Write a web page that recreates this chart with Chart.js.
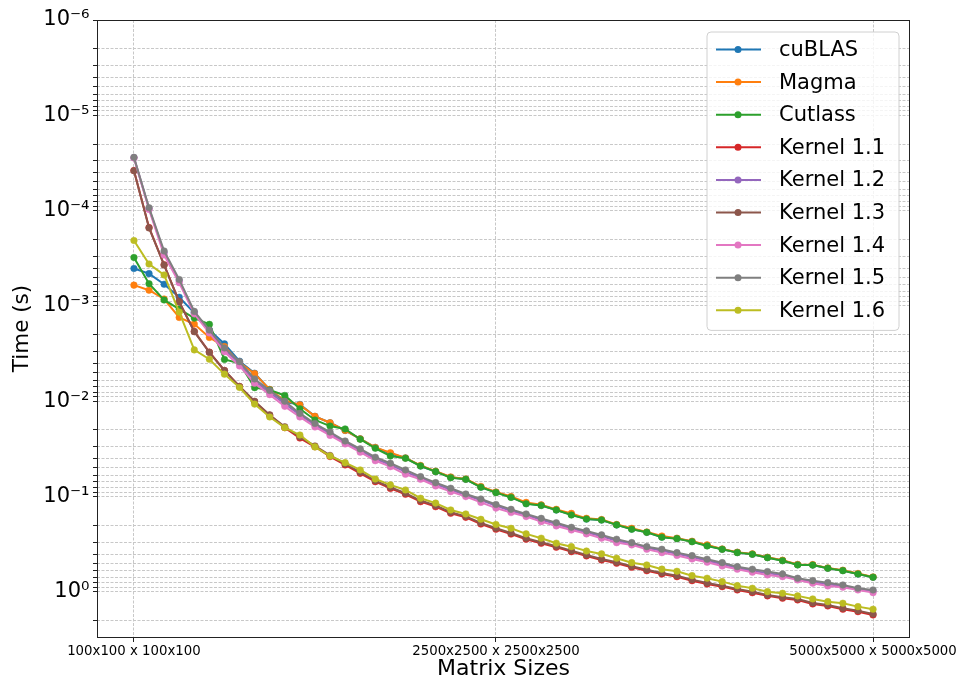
<!DOCTYPE html>
<html>
<head>
<meta charset="utf-8">
<title>Matrix multiplication timings</title>
<script src="https://cdn.jsdelivr.net/npm/chart.js@4.4.1/dist/chart.umd.min.js"></script>
<style>
  html, body { margin: 0; padding: 0; background: #fff; }
  #chart { display: block; }
</style>
</head>
<body>
<canvas id="chart" width="962" height="683"></canvas>
<script>
/* ── data ── */
// matrix size N (N x N times N x N)
const sizes = [100, 200, 300, 400, 500, 600, 700, 800, 900, 1000,
  1100, 1200, 1300, 1400, 1500, 1600, 1700, 1800, 1900, 2000,
  2100, 2200, 2300, 2400, 2500, 2600, 2700, 2800, 2900, 3000,
  3100, 3200, 3300, 3400, 3500, 3600, 3700, 3800, 3900, 4000,
  4100, 4200, 4300, 4400, 4500, 4600, 4700, 4800, 4900, 5000];
const sizeTicks = [100, 2500, 5000];
const sizeTickLabels = ['100x100 x 100x100', '2500x2500 x 2500x2500', '5000x5000 x 5000x5000'];
const timeExponents = [-6, -5, -4, -3, -2, -1, 0];

// time in seconds
const cublas = [4.04e-4, 4.58e-4, 5.92e-4, 8.10e-4, 1.18e-3, 1.79e-3, 2.50e-3, 3.80e-3, 5.08e-3, 7.55e-3,
  1.02e-2, 1.08e-2, 1.44e-2, 1.68e-2, 2.02e-2, 2.48e-2, 3.05e-2, 3.53e-2, 3.93e-2, 4.77e-2,
  5.45e-2, 6.27e-2, 6.58e-2, 7.94e-2, 9.00e-2, 1.01e-1, 1.18e-1, 1.23e-1, 1.38e-1, 1.54e-1,
  1.72e-1, 1.76e-1, 1.98e-1, 2.19e-1, 2.37e-1, 2.65e-1, 2.75e-1, 2.96e-1, 3.26e-1, 3.57e-1,
  3.85e-1, 4.02e-1, 4.35e-1, 4.68e-1, 5.17e-1, 5.21e-1, 5.64e-1, 5.96e-1, 6.48e-1, 7.01e-1];
const magma = [6.05e-4, 6.83e-4, 8.45e-4, 1.32e-3, 1.55e-3, 2.14e-3, 2.67e-3, 3.93e-3, 5.13e-3, 7.51e-3,
  9.80e-3, 1.09e-2, 1.44e-2, 1.68e-2, 2.02e-2, 2.48e-2, 3.05e-2, 3.46e-2, 3.93e-2, 4.71e-2,
  5.42e-2, 6.22e-2, 6.53e-2, 7.82e-2, 8.94e-2, 9.96e-2, 1.15e-1, 1.22e-1, 1.36e-1, 1.50e-1,
  1.69e-1, 1.74e-1, 1.96e-1, 2.15e-1, 2.35e-1, 2.59e-1, 2.73e-1, 2.94e-1, 3.21e-1, 3.54e-1,
  3.83e-1, 3.99e-1, 4.33e-1, 4.65e-1, 5.15e-1, 5.17e-1, 5.60e-1, 5.92e-1, 6.40e-1, 6.96e-1];
const cutlass = [3.10e-4, 5.84e-4, 8.65e-4, 1.08e-3, 1.34e-3, 1.56e-3, 3.64e-3, 3.99e-3, 7.19e-3, 7.61e-3,
  8.69e-3, 1.20e-2, 1.57e-2, 1.82e-2, 1.95e-2, 2.50e-2, 3.11e-2, 3.75e-2, 3.96e-2, 4.77e-2,
  5.47e-2, 6.33e-2, 6.58e-2, 7.98e-2, 9.09e-2, 1.02e-1, 1.19e-1, 1.24e-1, 1.38e-1, 1.56e-1,
  1.72e-1, 1.76e-1, 1.98e-1, 2.20e-1, 2.37e-1, 2.67e-1, 2.76e-1, 2.97e-1, 3.29e-1, 3.57e-1,
  3.87e-1, 4.02e-1, 4.37e-1, 4.70e-1, 5.21e-1, 5.23e-1, 5.64e-1, 5.98e-1, 6.48e-1, 7.01e-1];
const kernel11 = [3.80e-5, 1.50e-4, 3.70e-4, 9.00e-4, 1.85e-3, 3.05e-3, 4.75e-3, 7.00e-3, 1.01e-2, 1.40e-2,
  1.89e-2, 2.43e-2, 3.00e-2, 3.80e-2, 4.65e-2, 5.70e-2, 6.97e-2, 8.20e-2, 9.45e-2, 1.13e-1,
  1.275e-1, 1.495e-1, 1.65e-1, 1.94e-1, 2.20e-1, 2.47e-1, 2.80e-1, 3.09e-1, 3.40e-1, 3.78e-1,
  4.19e-1, 4.62e-1, 5.00e-1, 5.51e-1, 5.99e-1, 6.48e-1, 6.92e-1, 7.62e-1, 8.25e-1, 8.80e-1,
  9.53e-1, 1.018, 1.10, 1.165, 1.213, 1.336, 1.403, 1.52, 1.61, 1.744];
const kernel12 = [2.78e-5, 9.50e-5, 2.75e-4, 5.45e-4, 1.17e-3, 1.85e-3, 2.88e-3, 4.00e-3, 6.10e-3, 8.10e-3,
  1.06e-2, 1.39e-2, 1.77e-2, 2.18e-2, 2.70e-2, 3.28e-2, 4.02e-2, 4.64e-2, 5.50e-2, 6.35e-2,
  7.40e-2, 8.50e-2, 9.65e-2, 1.09e-1, 1.25e-1, 1.41e-1, 1.56e-1, 1.75e-1, 1.94e-1, 2.16e-1,
  2.36e-1, 2.60e-1, 2.90e-1, 3.10e-1, 3.44e-1, 3.70e-1, 3.98e-1, 4.30e-1, 4.70e-1, 5.10e-1,
  5.60e-1, 5.98e-1, 6.35e-1, 6.68e-1, 7.30e-1, 7.83e-1, 8.30e-1, 8.65e-1, 9.30e-1, 9.80e-1];
const kernel13 = [3.81e-5, 1.52e-4, 3.72e-4, 9.08e-4, 1.86e-3, 3.07e-3, 4.75e-3, 6.99e-3, 1.00e-2, 1.39e-2,
  1.85e-2, 2.37e-2, 2.94e-2, 3.70e-2, 4.54e-2, 5.55e-2, 6.80e-2, 7.98e-2, 9.22e-2, 1.10e-1,
  1.24e-1, 1.46e-1, 1.61e-1, 1.89e-1, 2.15e-1, 2.41e-1, 2.73e-1, 3.01e-1, 3.32e-1, 3.69e-1,
  4.09e-1, 4.51e-1, 4.88e-1, 5.38e-1, 5.84e-1, 6.32e-1, 6.75e-1, 7.43e-1, 8.05e-1, 8.59e-1,
  9.30e-1, 9.93e-1, 1.075, 1.137, 1.184, 1.304, 1.369, 1.483, 1.571, 1.701];
const kernel14 = [2.80e-5, 9.72e-5, 2.92e-4, 5.70e-4, 1.21e-3, 1.92e-3, 3.02e-3, 4.26e-3, 6.47e-3, 8.52e-3,
  1.13e-2, 1.46e-2, 1.86e-2, 2.28e-2, 2.80e-2, 3.42e-2, 4.20e-2, 4.85e-2, 5.83e-2, 6.58e-2,
  7.73e-2, 8.87e-2, 1.00e-1, 1.15e-1, 1.32e-1, 1.47e-1, 1.62e-1, 1.83e-1, 2.03e-1, 2.24e-1,
  2.46e-1, 2.73e-1, 3.04e-1, 3.21e-1, 3.57e-1, 3.87e-1, 4.14e-1, 4.51e-1, 4.88e-1, 5.34e-1,
  5.78e-1, 6.21e-1, 6.63e-1, 6.91e-1, 7.48e-1, 8.10e-1, 8.65e-1, 8.93e-1, 9.53e-1, 1.017];
const kernel15 = [2.76e-5, 9.31e-5, 2.65e-4, 5.27e-4, 1.14e-3, 1.79e-3, 2.76e-3, 3.84e-3, 5.83e-3, 7.70e-3,
  1.00e-2, 1.34e-2, 1.71e-2, 2.10e-2, 2.61e-2, 3.16e-2, 3.86e-2, 4.47e-2, 5.25e-2, 6.17e-2,
  7.14e-2, 8.17e-2, 9.38e-2, 1.06e-1, 1.21e-1, 1.36e-1, 1.52e-1, 1.69e-1, 1.88e-1, 2.10e-1,
  2.29e-1, 2.52e-1, 2.80e-1, 3.04e-1, 3.35e-1, 3.57e-1, 3.87e-1, 4.16e-1, 4.54e-1, 4.93e-1,
  5.43e-1, 5.78e-1, 6.12e-1, 6.48e-1, 7.18e-1, 7.61e-1, 7.99e-1, 8.45e-1, 9.15e-1, 9.53e-1];
const kernel16 = [2.06e-4, 3.63e-4, 4.73e-4, 1.16e-3, 2.89e-3, 3.62e-3, 5.19e-3, 7.16e-3, 1.07e-2, 1.46e-2,
  1.89e-2, 2.26e-2, 3.01e-2, 3.75e-2, 4.40e-2, 5.25e-2, 6.53e-2, 7.54e-2, 8.51e-2, 1.04e-1,
  1.17e-1, 1.38e-1, 1.52e-1, 1.73e-1, 1.96e-1, 2.15e-1, 2.46e-1, 2.73e-1, 3.08e-1, 3.35e-1,
  3.72e-1, 3.99e-1, 4.43e-1, 4.93e-1, 5.21e-1, 5.77e-1, 6.07e-1, 6.75e-1, 7.18e-1, 7.80e-1,
  8.59e-1, 9.15e-1, 9.93e-1, 1.032, 1.10, 1.184, 1.264, 1.314, 1.426, 1.519];

const seriesNames = ['cuBLAS', 'Magma', 'Cutlass', 'Kernel 1.1', 'Kernel 1.2', 'Kernel 1.3', 'Kernel 1.4', 'Kernel 1.5', 'Kernel 1.6'];
const seriesValues = [cublas, magma, cutlass, kernel11, kernel12, kernel13, kernel14, kernel15, kernel16];

/* ── style ── */
const COLORS = ['#1f77b4', '#ff7f0e', '#2ca02c', '#d62728', '#9467bd', '#8c564b', '#e377c2', '#7f7f7f', '#bcbd22'];
const FONT = 'DejaVu Sans';
const GRID = '#c8c8c8';
const AXIS = '#222';

const SUP = { '-': '\u207B', '0': '\u2070', '1': '\u00B9', '2': '\u00B2', '3': '\u00B3', '4': '\u2074',
  '5': '\u2075', '6': '\u2076', '7': '\u2077', '8': '\u2078', '9': '\u2079' };
function pow10Label(exp) {
  return '10' + String(exp).split('').map(c => SUP[c]).join('');
}

// matplotlib-like frame around the plot area
const frameBox = {
  id: 'frameBox',
  afterDatasetsDraw(chart) {
    const { ctx, chartArea: a } = chart;
    ctx.save();
    ctx.strokeStyle = AXIS;
    ctx.lineWidth = 1;
    ctx.strokeRect(Math.round(a.left) + 0.5, Math.round(a.top) + 0.5,
      Math.round(a.right - a.left) - 1, Math.round(a.bottom - a.top));
    ctx.restore();
  }
};

// legend inside the top-right corner, line + marker like matplotlib
const insideLegend = {
  id: 'insideLegend',
  afterDraw(chart) {
    const { ctx, chartArea: a } = chart;
    const w = 192, rowH = 32.6;
    const h = rowH * seriesNames.length + 5;
    const x0 = a.right - 11 - w, y0 = a.top + 12;
    const r = 4;
    ctx.save();
    ctx.beginPath();
    ctx.moveTo(x0 + r, y0);
    ctx.arcTo(x0 + w, y0, x0 + w, y0 + h, r);
    ctx.arcTo(x0 + w, y0 + h, x0, y0 + h, r);
    ctx.arcTo(x0, y0 + h, x0, y0, r);
    ctx.arcTo(x0, y0, x0 + w, y0, r);
    ctx.closePath();
    ctx.fillStyle = 'rgba(255,255,255,0.8)';
    ctx.fill();
    ctx.strokeStyle = '#d0d0d0';
    ctx.lineWidth = 1;
    ctx.stroke();

    ctx.font = '21px "' + FONT + '"';
    ctx.textBaseline = 'middle';
    ctx.fillStyle = '#000';
    chart.data.datasets.forEach((ds, i) => {
      const cy = y0 + 17.5 + i * rowH;
      ctx.strokeStyle = ds.borderColor;
      ctx.lineWidth = 2;
      ctx.beginPath();
      ctx.moveTo(x0 + 9, cy);
      ctx.lineTo(x0 + 54, cy);
      ctx.stroke();
      ctx.fillStyle = ds.borderColor;
      ctx.beginPath();
      ctx.arc(x0 + 31, cy, 3.5, 0, Math.PI * 2);
      ctx.fill();
      ctx.fillStyle = '#000';
      ctx.fillText(ds.label, x0 + 72, cy + 1);
    });
    ctx.restore();
  }
};

const datasets = seriesNames.map((name, i) => ({
  label: name,
  data: sizes.map((n, j) => ({ x: n, y: seriesValues[i][j] })),
  borderColor: COLORS[i],
  backgroundColor: COLORS[i],
  pointBackgroundColor: COLORS[i],
  pointBorderColor: COLORS[i],
  pointBorderWidth: 0.5,
  pointRadius: 3.3,
  borderWidth: 2,
  tension: 0,
  fill: false,
  order: seriesNames.length - i   // later series on top, as in matplotlib
}));

new Chart(document.getElementById('chart'), {
  type: 'line',
  data: { datasets },
  options: {
    responsive: false,
    animation: false,
    devicePixelRatio: 1,
    layout: { padding: { left: 0, right: 52, top: 20, bottom: 0 } },
    plugins: {
      legend: { display: false },
      tooltip: { enabled: false }
    },
    scales: {
      x: {
        type: 'linear',
        min: -145,
        max: 5245,
        afterBuildTicks: s => { s.ticks = sizeTicks.map(v => ({ value: v })); },
        afterFit: s => { s.height = 46; },
        ticks: {
          autoSkip: false,
          maxRotation: 0,
          minRotation: 0,
          padding: 2,
          color: '#000',
          font: { family: FONT, size: 13.3 },
          callback: v => sizeTickLabels[sizeTicks.indexOf(v)] || ''
        },
        grid: { color: GRID, lineWidth: 1, tickColor: AXIS, tickLength: 5 },
        border: { display: false, dash: [3, 1.5] },
        title: {
          display: true,
          text: 'Matrix Sizes',
          color: '#000',
          font: { family: FONT, size: 22 },
          padding: { top: 0, bottom: 1 }
        }
      },
      y: {
        type: 'logarithmic',
        reverse: true,
        min: 1e-6,
        max: 2.97,
        afterBuildTicks: s => {
          const ticks = [];
          timeExponents.forEach(e => {
            for (let k = 1; k <= 9; k++) {
              const v = Number(k + 'e' + e);
              if (v >= s.min && v <= s.max) ticks.push({ value: v, major: k === 1 });
            }
          });
          s.ticks = ticks;
        },
        afterFit: s => { s.width = 97; },
        ticks: {
          autoSkip: false,
          padding: 3.5,
          color: '#000',
          font: { family: FONT, size: 21 },
          callback: (v, i, ticks) => ticks[i].major ? pow10Label(Math.round(Math.log10(v))) : ''
        },
        grid: { color: GRID, lineWidth: 1, tickColor: AXIS, tickLength: 4 },
        border: { display: false, dash: [3, 1.5] },
        title: {
          display: true,
          text: 'Time (s)',
          color: '#000',
          font: { family: FONT, size: 21.5 },
          padding: { top: 9.5, bottom: 0 }
        }
      }
    }
  },
  plugins: [frameBox, insideLegend]
});
</script>
</body>
</html>
